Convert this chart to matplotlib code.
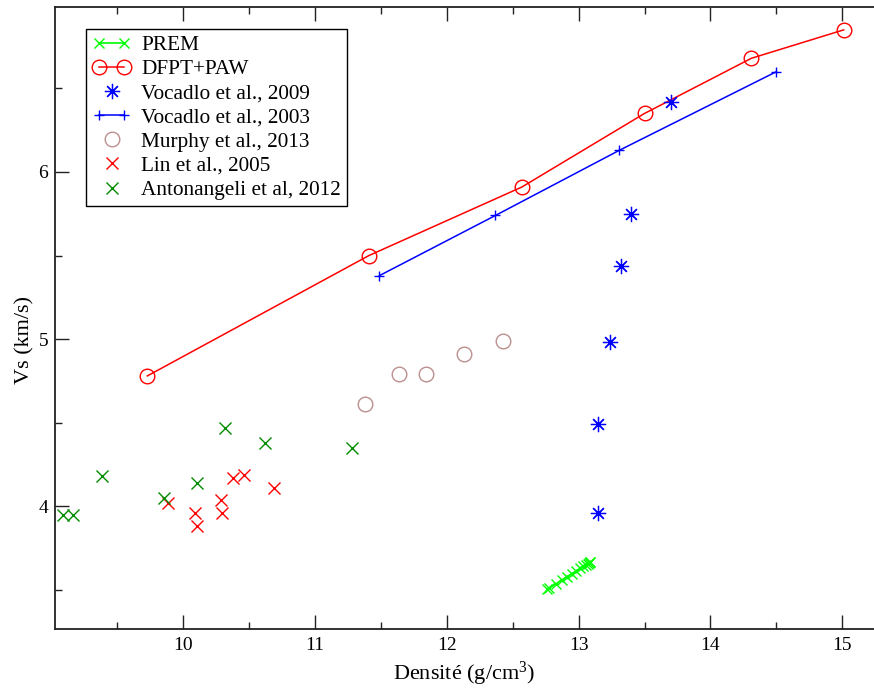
import matplotlib
matplotlib.use("Agg")
import matplotlib.pyplot as plt
from matplotlib.ticker import MultipleLocator
from matplotlib.legend_handler import HandlerLine2D

plt.rcParams['font.family'] = ['Liberation Serif', 'DejaVu Serif']
plt.rcParams['mathtext.fontset'] = 'custom'
plt.rcParams['mathtext.rm'] = 'Liberation Serif'
plt.rcParams['mathtext.it'] = 'Liberation Serif:italic'

# ---- data ----
prem_rho = [12.7636, 12.7750, 12.8250, 12.8708, 12.9121, 12.9491, 12.9818,
            13.0101, 13.0341, 13.0537, 13.0689, 13.0798, 13.0863, 13.0885]
prem_vs = [3.5043, 3.5100, 3.5352, 3.5582, 3.5790, 3.5977, 3.6141,
           3.6284, 3.6404, 3.6503, 3.6579, 3.6634, 3.6667, 3.6678]

dfpt_rho = [9.73, 11.41, 12.57, 13.50, 14.31, 15.01]
dfpt_vs = [4.78, 5.50, 5.91, 6.35, 6.68, 6.85]

voc09_rho = [13.70, 13.40, 13.32, 13.24, 13.15, 13.15]
voc09_vs = [6.42, 5.75, 5.44, 4.98, 4.49, 3.96]

voc03_rho = [11.49, 12.37, 13.31, 14.50]
voc03_vs = [5.38, 5.74, 6.13, 6.60]

murphy_rho = [11.38, 11.64, 11.84, 12.13, 12.43]
murphy_vs = [4.61, 4.79, 4.79, 4.91, 4.99]

lin_rho = [9.89, 10.09, 10.11, 10.29, 10.30, 10.38, 10.46, 10.69]
lin_vs = [4.02, 3.96, 3.88, 4.04, 3.96, 4.17, 4.19, 4.11]

anto_rho = [9.09, 9.17, 9.39, 9.86, 10.11, 10.32, 10.62, 11.28]
anto_vs = [3.95, 3.95, 4.18, 4.05, 4.14, 4.47, 4.38, 4.35]

labels = ["PREM", "DFPT+PAW", "Vocadlo et al., 2009", "Vocadlo et al., 2003",
          "Murphy et al., 2013", "Lin et al., 2005", "Antonangeli et al, 2012"]

# ---- figure ----
fig = plt.figure(figsize=(8.74, 6.89), dpi=100)
ax = fig.add_axes([55/874, 1 - 628.7/689, 1 - 55/874, (628.7 - 7.3)/689])

l_prem, = ax.plot(prem_rho, prem_vs, color='#00ff00', marker='x', ms=7, mew=1.0, lw=1.2, label=labels[0])
l_dfpt, = ax.plot(dfpt_rho, dfpt_vs, color='#ff0000', marker='o', ms=10.5, mfc='none', mew=1.0, lw=1.1, label=labels[1])
ax.plot(voc09_rho, voc09_vs, color='#0000ff', marker=(8, 2, 0), ms=11, mew=0.9, ls='none', label=labels[2])
l_v03, = ax.plot(voc03_rho, voc03_vs, color='#0000ff', marker='+', ms=7, mew=1.0, lw=1.1, label=labels[3])
ax.plot(murphy_rho, murphy_vs, color='#bc8f8f', marker='o', ms=10.5, mfc='none', mew=1.0, ls='none', label=labels[4])
ax.plot(lin_rho, lin_vs, color='#ff0000', marker='x', ms=8.5, mew=1.0, ls='none', label=labels[5])
ax.plot(anto_rho, anto_vs, color='#008b00', marker='x', ms=8.5, mew=1.0, ls='none', label=labels[6])

ax.set_xlim(9.03, 15.24)
ax.set_ylim(3.268, 6.985)

ax.xaxis.set_major_locator(MultipleLocator(1))
ax.xaxis.set_minor_locator(MultipleLocator(0.5))
ax.yaxis.set_major_locator(MultipleLocator(1))
ax.yaxis.set_minor_locator(MultipleLocator(0.5))
ax.tick_params(which='both', direction='in', top=True, right=False, labelsize=14, width=1.0, color='#222222')
ax.tick_params(which='major', length=10)
ax.tick_params(which='minor', length=5)
ax.tick_params(axis='x', pad=6)
ax.tick_params(axis='y', pad=5)
for s in ['left', 'bottom', 'top']:
    ax.spines[s].set_linewidth(1.3)
    ax.spines[s].set_color('#222222')
ax.spines['right'].set_visible(False)

ax.set_xlabel("Densité (g/cm$^{3}$)", fontsize=16, labelpad=4.5)
ax.set_ylabel("Vs (km/s)", fontsize=16)
ax.yaxis.set_label_coords(-0.0256, 0.4646)

hm = {l_prem: HandlerLine2D(numpoints=2), l_dfpt: HandlerLine2D(numpoints=2),
      l_v03: HandlerLine2D(numpoints=2)}
leg = ax.legend(loc='upper left', bbox_to_anchor=(86/874, 1 - 29/689), bbox_transform=fig.transFigure,
                fontsize=15.3, frameon=True, fancybox=False, edgecolor='black', framealpha=1,
                handlelength=1.8, handletextpad=0.5, labelspacing=0.2, borderpad=0.3, borderaxespad=0,
                handler_map=hm)
leg.get_frame().set_linewidth(1.0)

fig.savefig("out.png", dpi=100)
